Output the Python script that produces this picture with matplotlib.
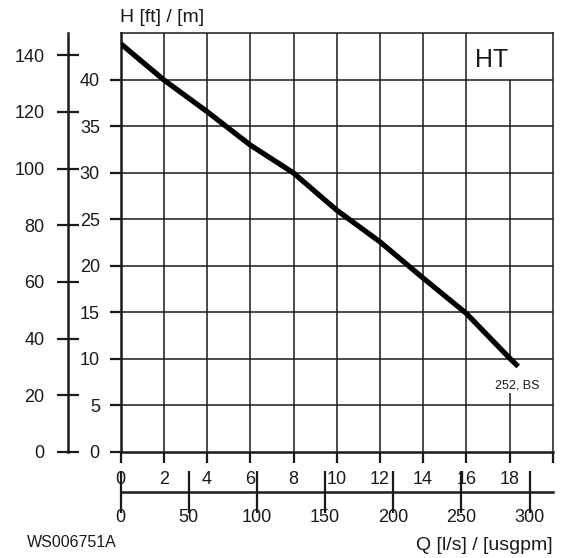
import numpy as np
import matplotlib
matplotlib.use('Agg')
import matplotlib.pyplot as plt

plt.rcParams['font.family'] = ['Liberation Sans', 'DejaVu Sans']

# Pump curve
flow_ls = [0, 2, 4, 6, 8, 10, 12, 14, 16, 18, 18.4]
head_m = [43.9, 40.0, 36.6, 33.0, 30.0, 26.0, 22.6, 18.7, 14.9, 10.1, 9.2]

x_ticks = [0, 2, 4, 6, 8, 10, 12, 14, 16, 18]
y_ticks = [0, 5, 10, 15, 20, 25, 30, 35, 40]
ft_ticks = [0, 20, 40, 60, 80, 100, 120, 140]
gpm_ticks = [0, 50, 100, 150, 200, 250, 300]

M_TO_FT = 3.28084
LS_TO_GPM = 15.850323

ink = '#1a1a1a'

fig = plt.figure(figsize=(5.64, 5.58), dpi=100)
ax = fig.add_axes([0.214, 0.190, 0.766, 0.750])
ax.set_xlim(0, 20)
ax.set_ylim(0, 45)

# grid (the 18 l/s line is broken by the labels)
for x in x_ticks:
    if x == 18:
        ax.vlines(x, 0, 6.35, color=ink, lw=1.1, zorder=1)
        ax.vlines(x, 10, 40, color=ink, lw=1.1, zorder=1)
    elif x > 0:
        ax.vlines(x, 0, 45, color=ink, lw=1.1, zorder=1)
for y in y_ticks[1:]:
    ax.hlines(y, 0, 20, color=ink, lw=1.1, zorder=1)

ax.plot(flow_ls, head_m, color='black', lw=3.8, solid_capstyle='butt', zorder=3)

for s in ['left', 'bottom']:
    ax.spines[s].set_linewidth(1.8)
for s in ['top', 'right']:
    ax.spines[s].set_linewidth(1.1)
for s in ax.spines.values():
    s.set_color(ink)

ax.set_xticks(x_ticks + [20])
ax.set_xticklabels([str(v) for v in x_ticks] + [''])
ax.set_yticks(y_ticks)
ax.tick_params(axis='x', direction='out', length=8, width=1.6, pad=6, labelsize=13, colors=ink)
ax.tick_params(axis='y', direction='out', length=8, width=1.6, pad=7, labelsize=13, colors=ink)

# feet axis on the far left
ft = ax.secondary_yaxis(-0.122, functions=(lambda m: m * M_TO_FT, lambda f: f / M_TO_FT))
ft.set_yticks(ft_ticks)
ft.spines['left'].set_linewidth(1.8)
ft.spines['left'].set_color(ink)
ft.tick_params(direction='inout', length=16, width=1.6, pad=9, labelsize=13, colors=ink)

# usgpm axis below
gpm = ax.secondary_xaxis(-0.0956, functions=(lambda q: q * LS_TO_GPM, lambda g: g / LS_TO_GPM))
gpm.set_xticks(gpm_ticks)
gpm.spines['bottom'].set_linewidth(1.8)
gpm.spines['bottom'].set_color(ink)
gpm.tick_params(direction='inout', length=30, width=1.6, pad=-3, labelsize=13, colors=ink)

fig.text(0.213, 0.968, 'H [ft] / [m]', fontsize=14, ha='left', va='center', color=ink)
fig.text(0.980, 0.023, 'Q [l/s] / [usgpm]', fontsize=14, ha='right', va='center', color=ink)
fig.text(0.048, 0.027, 'WS006751A', fontsize=11.5, ha='left', va='center', color=ink)
ax.text(16.4, 42.2, 'HT', fontsize=18, ha='left', va='center', color=ink)
ax.text(18.35, 7.2, '252, BS', fontsize=9, ha='center', va='center', color=ink)

fig.savefig('out.png', dpi=100)
